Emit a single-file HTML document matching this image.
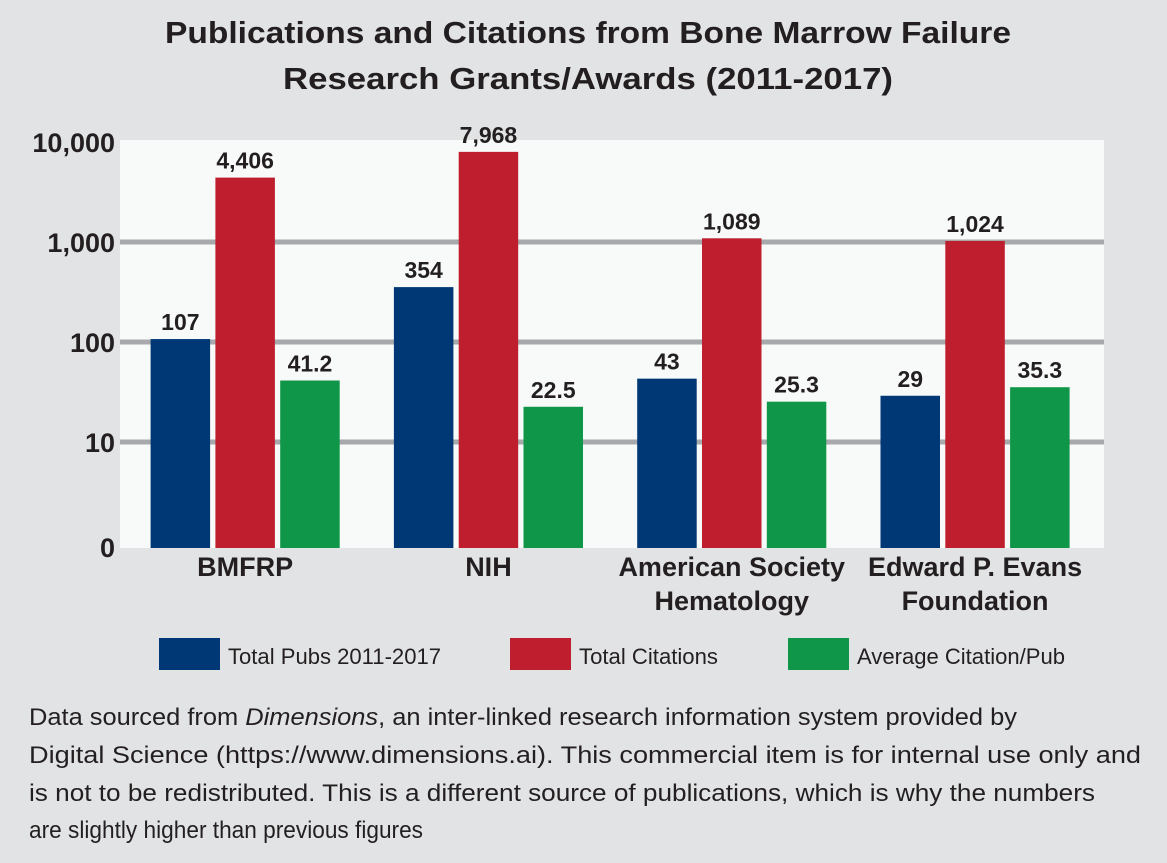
<!DOCTYPE html>
<html><head><meta charset="utf-8"><style>
body{margin:0;background:#e2e3e5;}
svg{display:block;font-family:"Liberation Sans Narrow","Liberation Sans",sans-serif;}
</style></head><body>
<svg width="1167" height="863" viewBox="0 0 1167 863" xmlns="http://www.w3.org/2000/svg">
<rect width="1167" height="863" fill="#e2e3e5"/>
<text x="588" y="43" text-anchor="middle" font-family="Liberation Sans" font-weight="bold" font-size="31" fill="#231f20" textLength="846" lengthAdjust="spacingAndGlyphs">Publications and Citations from Bone Marrow Failure</text>
<text x="588" y="89" text-anchor="middle" font-family="Liberation Sans" font-weight="bold" font-size="31" fill="#231f20" textLength="610" lengthAdjust="spacingAndGlyphs">Research Grants/Awards (2011-2017)</text>
<rect x="120" y="140" width="984" height="408" fill="#f8faf9"/>
<g id="grid"></g><g id="bars"></g><g id="labels"></g>
<g>
<rect x="159" y="638" width="61" height="32" fill="#003876"/>
<text x="228" y="664" font-size="22" fill="#231f20" textLength="213" lengthAdjust="spacingAndGlyphs">Total Pubs 2011-2017</text>
<rect x="510" y="638" width="61" height="32" fill="#be1e2d"/>
<text x="579" y="664" font-size="22" fill="#231f20" textLength="139" lengthAdjust="spacingAndGlyphs">Total Citations</text>
<rect x="788" y="638" width="61" height="32" fill="#0f9648"/>
<text x="857" y="664" font-size="22" fill="#231f20" textLength="208" lengthAdjust="spacingAndGlyphs">Average Citation/Pub</text>
</g>
<g font-size="24" fill="#231f20">
<text x="29" y="725" textLength="988" lengthAdjust="spacingAndGlyphs">Data sourced from <tspan font-style="italic">Dimensions</tspan>, an inter-linked research information system provided by</text>
<text x="29" y="763" textLength="1112" lengthAdjust="spacingAndGlyphs">Digital Science (https://www.dimensions.ai). This commercial item is for internal use only and</text>
<text x="29" y="801" textLength="1066" lengthAdjust="spacingAndGlyphs">is not to be redistributed. This is a different source of publications, which is why the numbers</text>
<text x="29" y="838" textLength="394" lengthAdjust="spacingAndGlyphs">are slightly higher than previous figures</text>
</g>
</svg>
<script>
const categories=[["BMFRP"],["NIH"],["American Society","Hematology"],["Edward P. Evans","Foundation"]];
const pubs=[107,354,43,29];
const citations=[4406,7968,1089,1024];
const avgCit=[41.2,22.5,25.3,35.3];
const pubLabels=["107","354","43","29"];
const citLabels=["4,406","7,968","1,089","1,024"];
const avgLabels=["41.2","22.5","25.3","35.3"];
const tickValues=[10,100,1000,10000];
const tickLabels=["10","100","1,000","10,000"];
const NS="http://www.w3.org/2000/svg";
function y(v){return 542-100*Math.log10(v);}
const base=548,bandStart=123.5,step=243.3,bw=59.5,gap=5.3;
function x0(i){return bandStart+step*i+step/2-(3*bw+2*gap)/2;}
function mk(t,a){const e=document.createElementNS(NS,t);for(const k in a)e.setAttribute(k,a[k]);return e;}
const grid=document.getElementById('grid'),bars=document.getElementById('bars'),labels=document.getElementById('labels');
tickValues.forEach((v,i)=>{
 if(v<10000){const l=mk('rect',{x:120,y:y(v)-2.5,width:984,height:5,fill:'#a7a9ac'});
 
 
 grid.appendChild(l);}
 const t=mk('text',{x:115,y:y(v)+10,'text-anchor':'end','font-size':'27','font-weight':'bold',fill:'#231f20'});
 
 
 t.textContent=tickLabels[i];grid.appendChild(t);
});
const z=mk('text',{x:115,y:base+9,'text-anchor':'end','font-size':'27','font-weight':'bold',fill:'#231f20'});


z.textContent='0';grid.appendChild(z);
const series=[[pubs,pubLabels,'#003876','pubs'],[citations,citLabels,'#be1e2d','citations'],[avgCit,avgLabels,'#0f9648','average']];
categories.forEach((c,i)=>{
 series.forEach((s,j)=>{
  const v=s[0][i],bx=x0(i)+j*(bw+gap),by=y(v);
  const r=mk('rect',{x:bx,y:by,width:bw,height:base-by,fill:s[2]});
  
  
  bars.appendChild(r);
  const t=mk('text',{x:bx+bw/2,y:by-9,'text-anchor':'middle','font-size':'23','font-weight':'bold',fill:'#231f20'});
  
  
  t.textContent=s[1][i];labels.appendChild(t);
 });
 c.forEach((line,k)=>{
  const t=mk('text',{x:bandStart+step*i+step/2,y:576+k*34,'text-anchor':'middle','font-size':'27','font-weight':'bold',fill:'#231f20'});
  
  
  t.textContent=line;labels.appendChild(t);
 });
});
</script>
</body></html>
